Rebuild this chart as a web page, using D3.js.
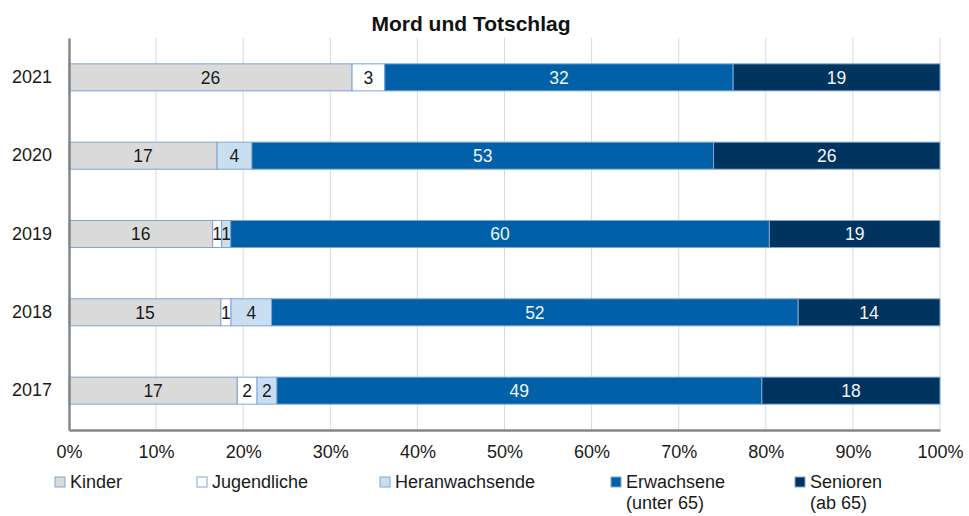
<!DOCTYPE html>
<html>
<head>
<meta charset="utf-8">
<style>
  body { margin: 0; background: #fff; }
  text { font-family: "Liberation Sans", Arial, sans-serif; }
</style>
</head>
<body>
<svg id="chart" width="969" height="516"></svg>
<script src="https://cdnjs.cloudflare.com/ajax/libs/d3/7.8.5/d3.min.js"></script>
<script>

var years = ["2021", "2020", "2019", "2018", "2017"];
var groups = ["Kinder", "Jugendliche", "Heranwachsende", "Erwachsene", "Senioren"];
var legendLines = [["Kinder"], ["Jugendliche"], ["Heranwachsende"], ["Erwachsene", "(unter 65)"], ["Senioren", "(ab 65)"]];
var kinder = [26, 17, 16, 15, 17];
var jugendliche = [3, 0, 1, 1, 2];
var heranwachsende = [0, 4, 1, 4, 2];
var erwachsene = [32, 53, 60, 52, 49];
var senioren = [19, 26, 19, 14, 18];
var xTicks = [0, 0.1, 0.2, 0.3, 0.4, 0.5, 0.6, 0.7, 0.8, 0.9, 1];

var colors = ["#d9dad9", "#ffffff", "#c9dff0", "#0061a8", "#00345f"];
var textColors = ["#1a1a1a", "#1a1a1a", "#1a1a1a", "#f2f5f9", "#f2f5f9"];
var legendX = [55, 197, 380, 611, 795];

var rows = years.map(function(y, i) {
  return {year: y, Kinder: kinder[i], Jugendliche: jugendliche[i],
    Heranwachsende: heranwachsende[i], Erwachsene: erwachsene[i], Senioren: senioren[i]};
});

var svg = d3.select("#chart"),
    margin = {top: 38, left: 69, right: 29, bottom: 86},
    width = +svg.attr("width") - margin.left - margin.right,
    height = +svg.attr("height") - margin.top - margin.bottom,
    g = svg.append("g").attr("transform", "translate(" + margin.left + "," + margin.top + ")");

var x = d3.scaleLinear().domain([0, 1]).range([0, width]);
var y = d3.scaleBand().domain(years).range([0, height]).paddingInner(0.655).paddingOuter(0.33);

var series = d3.stack().keys(groups).offset(d3.stackOffsetExpand)(rows);

svg.append("text")
    .attr("x", 471)
    .attr("y", 31)
    .attr("text-anchor", "middle")
    .attr("font-size", 21)
    .attr("font-weight", "bold")
    .attr("fill", "#111")
    .text("Mord und Totschlag");

// gridlines
g.selectAll(".grid")
  .data(xTicks.slice(1))
  .enter().append("line")
    .attr("x1", function(d) { return x(d); })
    .attr("x2", function(d) { return x(d); })
    .attr("y1", 0)
    .attr("y2", height)
    .attr("stroke", "#d9d9d9")
    .attr("stroke-width", 1);

var layer = g.selectAll(".layer")
  .data(series)
  .enter().append("g")
    .attr("fill", function(d, i) { return colors[i]; });

layer.selectAll("rect")
  .data(function(d) { return d.filter(function(p) { return p[1] - p[0] > 0; }); })
  .enter().append("rect")
    .attr("x", function(d) { return x(d[0]); })
    .attr("y", function(d) { return y(d.data.year); })
    .attr("width", function(d) { return x(d[1]) - x(d[0]); })
    .attr("height", y.bandwidth())
    .attr("stroke", "#7ea5d6")
    .attr("stroke-width", 1);

layer.selectAll("text")
  .data(function(d) {
    var k = d.key, i = groups.indexOf(k);
    return d.filter(function(p) { return p[1] - p[0] > 0; })
      .map(function(p) { return {p: p, v: p.data[k], c: textColors[i]}; });
  })
  .enter().append("text")
    .attr("x", function(d) { return x((d.p[0] + d.p[1]) / 2); })
    .attr("y", function(d) { return y(d.p.data.year) + y.bandwidth() / 2; })
    .attr("dy", "0.36em")
    .attr("text-anchor", "middle")
    .attr("font-size", 17.5)
    .attr("fill", function(d) { return d.c; })
    .text(function(d) { return d.v; });

// axes
g.append("g")
    .attr("transform", "translate(0," + height + ")")
    .call(d3.axisBottom(x).tickValues(xTicks).tickFormat(d3.format(".0%")).tickSize(0).tickPadding(15))
    .call(function(a) { a.select(".domain").attr("stroke", "#868686").attr("stroke-width", 2.5); })
    .call(function(a) { a.selectAll("text").attr("font-size", 18).attr("fill", "#1a1a1a")
      .style("font-family", "Liberation Sans, Arial, sans-serif"); });

g.append("g")
    .call(d3.axisLeft(y).tickSize(0).tickPadding(17))
    .call(function(a) { a.select(".domain").attr("stroke", "#868686").attr("stroke-width", 2.5); })
    .call(function(a) { a.selectAll("text").attr("font-size", 18).attr("fill", "#1a1a1a")
      .style("font-family", "Liberation Sans, Arial, sans-serif"); });

// legend
var legend = svg.selectAll(".legend")
  .data(groups)
  .enter().append("g")
    .attr("transform", function(d, i) { return "translate(" + legendX[i] + ",477)"; });

legend.append("rect")
    .attr("width", 10)
    .attr("height", 10)
    .attr("fill", function(d, i) { return colors[i]; })
    .attr("stroke", "#7ea5d6")
    .attr("stroke-width", 1);

legend.append("text")
    .attr("y", 11)
    .attr("font-size", 18)
    .attr("fill", "#1a1a1a")
    .selectAll("tspan")
    .data(function(d, i) { return legendLines[i]; })
    .enter().append("tspan")
      .attr("x", 15)
      .attr("dy", function(d, i) { return i ? 21 : 0; })
      .text(function(d) { return d; });

</script>
</body>
</html>
